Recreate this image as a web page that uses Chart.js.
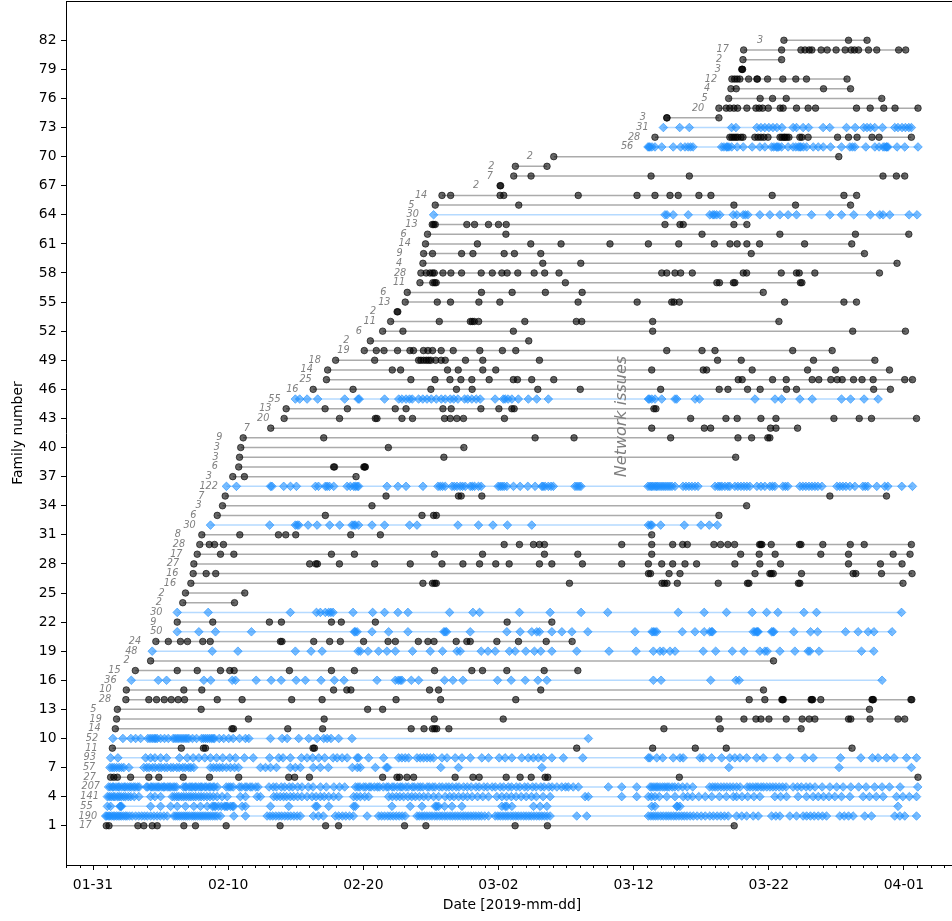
<!DOCTYPE html>
<html>
<head>
<meta charset="utf-8">
<script src="https://cdn.jsdelivr.net/npm/chart.js@4/dist/chart.umd.min.js"></script>
<style>
  html, body { margin: 0; padding: 0; background: #ffffff; overflow: hidden; }
  #wrap { position: relative; width: 1000px; height: 921px; }
</style>
</head>
<body>
<div id="wrap"><canvas id="chart" width="1000" height="921"></canvas></div>
<script>
// Observation times of each family, in days since 2019-01-31 00:00.
const f01 = [0.98, 1.18, 3.32, 3.76, 4.38, 4.75, 6.72, 7.58, 9.85, 13.84, 17.21, 18.17, 23.05, 24.63, 31.23, 33.62, 47.44];
const f02 = [0.93, 1.02, 1.15, 1.24, 1.37, 1.5, 1.6, 1.74, 1.86, 1.98, 2.1, 2.25, 2.4, 2.52, 2.7, 2.9,
  3.15, 3.38, 3.6, 3.81, 4.02, 4.26, 4.5, 4.74, 4.98, 5.24, 5.49,
  5.98, 6.12, 6.26, 6.4, 6.55, 6.7, 6.84, 6.98, 7.13, 7.3, 7.44, 7.58, 7.74, 7.9, 8.05, 8.2, 8.36, 8.52, 8.68, 8.85, 9.02, 9.19,
  9.43, 10.42, 11.28,
  12.88, 13.1, 13.3, 13.52, 13.74, 13.95, 14.18, 14.4, 14.62, 14.86, 15.1, 15.34,
  16.3, 16.68, 17.04, 17.93, 18.18, 18.45, 18.7, 18.98, 19.26, 20.28,
  21.13, 21.35, 21.57, 21.8, 22.0, 22.22, 22.44, 22.66, 22.88, 23.1,
  23.97, 24.15, 24.34, 24.52, 24.7, 24.9, 25.08, 25.28, 25.46, 25.65, 25.84, 26.03, 26.22, 26.42, 26.6, 26.8, 26.98, 27.18, 27.38, 27.56, 27.76, 27.95, 28.15, 28.34, 28.54, 28.74, 28.98, 29.26,
  29.76, 29.95, 30.14, 30.33, 30.52, 30.7, 30.9, 31.1, 31.28, 31.47, 31.66, 31.86, 32.05, 32.24, 32.43, 32.62, 32.82, 33.02, 33.2, 33.4, 33.6, 33.82,
  35.79, 36.53,
  41.09, 41.27, 41.45, 41.62, 41.8, 42.0, 42.2, 42.4, 42.58, 42.77, 42.96, 43.15, 43.35, 43.55, 43.75, 43.95, 44.18, 44.42, 44.7, 45.0, 45.3,
  45.64, 45.9, 46.18, 46.45, 46.72, 47.0, 47.62, 48.0, 48.36, 48.85, 49.22, 50.21, 50.52, 50.82, 51.56, 52.05,
  52.54, 52.8, 53.08, 53.36, 53.66, 53.97, 54.27, 55.26, 55.58, 55.9, 56.24, 57.1, 57.6, 59.32, 59.7, 60.06, 60.93];
const f03 = [1.06, 1.3, 1.99, 2.04, 2.11, 4.26, 5.0, 5.74, 6.23, 6.84, 7.46, 7.95, 8.45, 8.82, 8.95, 9.06, 9.28, 9.5, 9.73, 9.84, 9.95, 10.17, 10.32, 10.41,
  11.03, 11.28, 13.13, 14.48, 16.46, 16.58, 17.44, 19.28, 19.41, 22.12, 23.47, 24.34, 25.32, 25.43, 25.57, 26.01, 26.56, 27.29,
  30.25, 30.49, 30.62, 30.99, 32.59, 33.08, 33.58, 41.34, 41.58, 43.19, 43.24, 43.43, 59.56];
const f04 = [1.06, 1.2, 1.34, 1.5, 1.62, 1.8, 1.93, 2.08, 2.26, 2.4, 2.61, 2.79, 3.05, 3.39, 4.26, 4.58, 5.0,
  5.86, 6.02, 6.2, 6.35, 6.55, 6.71, 6.9, 7.08, 7.24, 7.43, 7.6, 7.82, 8.0, 8.2, 8.43, 8.65, 8.9, 9.18, 9.55, 9.93,
  10.9, 11.28, 12.14, 12.39, 13.37, 13.6, 13.85, 14.1, 14.32, 14.6, 14.85, 15.14, 15.45, 15.84,
  16.21, 16.5, 16.82, 17.1, 17.44, 17.8, 18.17, 19.28, 19.52, 19.78, 20.1, 20.39,
  21.87, 22.15, 22.44, 22.7, 22.98, 23.3, 23.58, 23.85, 24.15, 24.47, 24.8, 25.2, 25.57,
  26.06, 26.4, 26.7, 27.05, 27.38, 27.7, 28.05, 28.45, 28.84, 29.26,
  29.88, 30.25, 30.6, 30.95, 31.3, 31.68, 32.05, 32.44, 32.8, 33.3, 33.82, 36.41, 36.65, 39.12, 40.23,
  41.09, 41.32, 41.58, 41.9, 42.45, 43.06, 43.67, 44.0, 44.35, 44.82, 45.3, 45.78, 46.35, 46.86, 47.37,
  47.62, 48.02, 48.44, 48.9, 49.34, 50.45, 50.87, 51.31, 52.17, 52.79, 53.28, 53.66, 54.05, 54.45, 54.89,
  55.38, 56.0, 56.98, 57.45, 57.95, 58.46, 59.45, 59.92, 60.4, 60.93];
const f05 = [1.15, 1.28, 1.45, 1.52, 1.7, 1.86, 1.94, 2.12, 2.3, 2.38, 2.55, 2.71, 2.83, 3.0, 3.12, 3.3, 3.42,
  3.95, 4.05, 4.27, 4.36, 4.5, 4.66, 4.8, 4.88, 5.07, 5.22, 5.3, 5.5, 5.63, 5.74, 5.92, 6.04, 6.18,
  6.68, 6.83, 6.9, 7.12, 7.25, 7.36, 7.55, 7.62, 7.81, 7.97, 8.06, 8.27, 8.38, 8.58, 8.69, 8.88, 8.97, 9.2,
  9.86, 10.04, 10.18, 10.37, 10.82, 10.98, 11.25, 11.38, 11.62, 11.77, 12.04, 12.21,
  13.02, 13.34, 13.57, 13.93, 14.18, 14.52, 14.77, 15.14, 15.46, 15.93, 16.28, 16.83, 17.26, 17.82, 18.24, 18.62,
  19.42, 19.6, 19.75, 20.02, 20.18, 20.43, 20.57, 20.82, 21.04, 21.19,
  21.48, 21.73, 21.86, 22.13, 22.27, 22.52, 22.74, 22.88, 23.14, 23.33,
  23.62, 23.77, 24.03, 24.22, 24.41, 24.72, 24.88, 25.13, 25.31, 25.62,
  25.84, 26.12, 26.33, 26.58, 26.87, 27.08, 27.42, 27.69, 27.98, 28.33,
  28.57, 28.92, 29.18, 29.53, 29.77, 30.12, 30.38, 30.73, 30.97, 31.32,
  31.58, 31.93, 32.17, 32.52, 32.78, 33.13, 33.37, 33.72, 33.97, 34.32,
  34.68, 34.96, 35.17, 35.53, 35.91, 38.13, 39.12, 40.23,
  41.22, 41.35, 41.5, 41.66, 41.78, 41.95, 42.14, 42.3, 42.48, 42.62, 42.85, 43.04, 43.3, 43.62, 43.95, 44.37,
  45.62, 45.84, 46.03, 46.22, 46.46, 46.68, 46.9, 47.13, 47.36, 47.62, 47.88,
  48.4, 48.6, 48.82, 49.04, 49.2, 49.43, 49.61, 49.85, 50.08, 50.3, 50.52, 50.77, 51.02, 51.28,
  51.8, 52.12, 52.41, 52.76, 53.05, 53.42, 53.95,
  54.52, 55.02, 55.5, 56.07, 56.65, 57.2, 57.83, 58.38, 58.93, 59.72, 61.02];
const f06 = [1.3, 1.54, 1.8, 2.78, 4.13, 4.87, 6.67, 8.62, 10.78, 14.48, 14.92, 16.01, 21.43, 22.49, 22.68, 23.23, 23.72, 26.79, 28.11, 28.57, 30.57, 31.6, 32.42, 33.45, 33.65, 43.38, 61.04];
const f07 = [1.25, 1.41, 1.56, 1.74, 1.93, 2.11, 2.28, 2.65, 3.76, 3.98, 4.15, 4.41, 4.6, 4.87, 5.05, 5.3, 5.49, 5.76, 5.94, 6.2, 6.38, 6.64, 6.82, 7.08, 7.24, 7.46,
  8.69, 8.91, 9.14, 9.36, 9.58, 9.87, 10.17, 10.47, 10.76, 12.39, 12.76, 13.13, 13.57, 14.6, 14.97, 15.34, 16.3, 16.82, 17.41, 19.19, 19.56,
  19.78, 20.89, 21.7, 21.8, 25.73, 27.04, 33.21, 47.05, 55.2, 60.55];
const f08 = [1.3, 1.84, 3.89, 4.26, 4.58, 5.0, 5.44, 6.4, 6.97, 7.41, 7.83, 8.27, 8.69, 9.14, 9.6, 10.12, 10.54, 11.2, 11.85, 13.07, 13.74, 14.06, 14.6, 15.42, 15.84, 16.25, 16.7, 17.14, 17.76, 18.06, 18.43, 18.8, 19.54,
  19.65, 20.39, 21.5, 22.61, 22.85, 23.1, 23.35, 23.97, 24.21, 24.46, 24.71, 24.95, 25.2, 25.82, 26.19, 26.8, 27.29, 27.92, 28.77, 29.26, 30.05, 30.49, 30.99, 31.72, 32.21, 32.58, 32.95, 33.33, 33.95, 34.8, 36.24, 41.09,
  41.21, 41.71, 42.15, 42.93, 43.43, 43.67, 44.91, 45.15, 45.77, 46.51, 47.12, 47.49, 47.86, 48.36, 49.1, 49.59, 50.62, 51.56, 52.67, 53.28, 55.31, 56.81, 57.67, 58.09, 58.71, 59.27, 60.19, 60.93];
const f09 = [1.43, 6.53, 8.17, 8.32, 16.28, 16.38, 35.79, 41.41, 44.56, 46.85, 56.16];
const f10 = [1.47, 2.21, 2.8, 3.15, 3.52, 4.06, 4.22, 4.37, 4.52, 4.63, 4.75, 5.0, 5.29, 5.57, 5.93, 6.07, 6.22, 6.36, 6.51, 6.66, 6.81, 6.95, 7.09, 7.36, 7.66,
  8.03, 8.17, 8.32, 8.47, 8.62, 8.76, 8.88, 8.99, 9.34, 9.67, 10.04, 10.37, 10.84, 11.28, 11.53,
  13.13, 13.99, 14.36, 15.22, 15.96, 16.58, 17.07, 17.32, 17.61, 18.17, 19.16, 36.65];
const f11 = [1.65, 10.28, 10.39, 14.41, 16.99, 23.54, 24.49, 25.12, 25.28, 25.43, 26.33, 42.24, 46.41, 52.39];
const f12 = [1.74, 11.5, 17.1, 25.25, 30.35, 46.31, 48.16, 49.05, 49.42, 50.01, 51.29, 52.47, 52.99, 53.41, 55.9, 56.07, 57.49, 59.56, 60.06];
const f13 = [1.8, 8.0, 20.32, 21.43, 57.45];
const f14 = [2.43, 4.13, 4.7, 5.27, 5.79, 6.3, 6.77, 9.19, 11.03, 14.7, 16.95, 22.42, 25.72, 31.28, 48.55, 49.71, 50.97, 51.02, 51.07, 53.13, 53.19, 53.24, 53.85, 57.64, 57.69, 57.74, 60.52, 60.58];
const f15 = [2.46, 6.72, 8.05, 17.8, 18.78, 19.08, 24.9, 25.57, 33.13, 49.61];
const f16 = [2.83, 4.83, 5.44, 8.2, 8.71, 10.3, 10.54, 12.07, 13.18, 13.92, 15.03, 15.71, 16.87, 17.86, 18.57, 21.01, 22.37, 22.59, 22.73, 22.86,
  23.55, 24.09, 26.01, 26.63, 27.37, 29.93, 30.94, 31.98, 32.92, 33.58, 41.46, 42.03, 45.7, 47.57, 47.81, 58.38];
const f17 = [3.13, 6.23, 7.71, 9.43, 10.12, 10.44, 14.53, 17.64, 19.34, 25.27, 28.03, 28.82, 30.62, 33.38, 35.87];
const f18 = [4.26, 50.35];
const f19 = [4.38, 8.82, 10.72, 14.97, 16.13, 16.95, 19.61, 19.78, 20.35, 21.13, 21.75, 22.37, 23.64, 24.95, 25.86, 26.93, 27.17, 28.72, 29.22, 29.76,
  30.81, 31.23, 32.02, 32.66, 33.13, 33.95, 35.79, 38.18, 40.18, 41.46, 41.95, 42.2, 42.69, 43.06, 45.15, 46.07, 47.3, 48.16, 49.34, 49.71,
  49.88, 50.82, 51.93, 52.91, 53.04, 53.72, 56.86, 57.77];
const f20 = [4.65, 5.57, 6.47, 6.99, 8.12, 8.67, 13.87, 13.98, 16.33, 17.51, 18.3, 20.02, 21.83, 22.37, 24.07, 24.78, 25.23, 26.87, 27.66, 27.91, 29.88, 31.48, 33.53, 35.45];
const f21 = [6.23, 7.83, 9.06, 11.72, 19.33, 19.41, 19.54, 20.64, 21.87, 23.3, 25.96, 26.06, 26.16, 27.91, 30.62, 31.6, 32.46, 32.83, 33.03, 33.95,
  34.69, 35.43, 36.61, 40.1, 41.36, 41.46, 41.58, 41.71, 43.6, 44.54, 45.22, 45.64, 45.77, 45.83, 48.85, 48.98, 49.1, 49.16, 49.22, 50.21,
  50.3, 50.38, 51.85, 53.09, 53.61, 55.68, 56.61, 57.35, 57.78, 59.12];
const f22 = [6.23, 8.86, 13.05, 13.94, 17.64, 18.37, 20.89, 30.64, 33.95];
const f23 = [6.23, 8.52, 14.6, 16.53, 16.82, 17.19, 17.44, 17.6, 17.76, 19.24, 20.69, 21.57, 22.56, 23.3, 26.38, 28.11, 28.6, 31.55, 33.82, 36.11,
  38.08, 43.3, 45.22, 46.87, 48.77, 49.84, 50.67, 52.6, 53.53, 59.82];
const f24 = [6.64, 10.47];
const f25 = [6.84, 11.23];
const f26 = [7.24, 24.41, 25.12, 25.28, 25.4, 35.25, 42.1, 42.28, 42.47, 43.23, 46.26, 48.42, 48.53, 52.19, 52.3, 59.93];
const f27 = [7.41, 8.37, 9.08, 41.1, 41.25, 42.62, 43.43, 48.98, 50.08, 50.19, 50.33, 52.42, 56.24, 56.44, 58.34, 60.6];
const f28 = [7.46, 16.03, 16.49, 16.6, 18.23, 20.84, 23.47, 25.82, 27.37, 28.6, 29.8, 30.79, 33.03, 33.95, 36.21, 39.12, 41.09, 42.08, 42.89, 43.8, 44.66, 47.49, 49.34, 50.87, 55.9, 58.26, 59.86];
const f29 = [7.71, 9.43, 10.42, 17.64, 19.34, 25.27, 28.82, 33.4, 35.87, 41.34, 47.92, 49.29, 50.47, 53.85, 55.9, 59.2, 60.45];
const f30 = [7.9, 8.6, 8.99, 9.65, 30.42, 31.55, 32.59, 33.03, 33.4, 39.12, 41.34, 42.89, 43.63, 43.97, 45.94, 46.43, 46.97, 47.47, 49.32, 49.41, 49.49, 50.18, 52.27, 52.38, 54.0, 56.03, 57.06, 60.55];
const f31 = [8.05, 10.86, 13.72, 14.26, 15.0, 19.07, 21.26, 41.34];
const f32 = [8.69, 13.07, 14.97, 15.1, 15.23, 15.91, 16.58, 17.51, 18.25, 19.16, 19.3, 19.41, 19.65, 20.64, 21.57, 23.42, 23.97, 27.0, 28.52, 29.59,
  30.66, 32.46, 41.09, 41.25, 41.36, 42.0, 43.75, 44.98, 45.6, 46.19];
const f33 = [9.19, 17.19, 24.34, 25.2, 25.4, 46.31];
const f34 = [9.58, 20.64, 48.36];
const f35 = [9.78, 21.68, 27.04, 27.24, 28.77, 54.52, 58.71];
const f36 = [9.87, 10.61, 13.13, 13.24, 14.11, 14.61, 15.05, 16.46, 16.68, 17.19, 17.32, 17.49, 17.81, 18.8, 19.04, 19.29, 19.41, 19.54,
  19.65, 21.75, 22.56, 23.16, 24.41, 25.52, 25.69, 25.86, 26.06, 26.56, 26.73, 26.93, 27.17, 27.34, 27.54, 27.91, 28.06, 28.23, 28.52, 28.72,
  29.98, 30.13, 30.27, 30.42, 30.62, 31.11, 31.6, 32.17, 32.71, 33.21, 33.3, 33.45, 33.69, 33.89, 34.06, 35.66, 35.81, 35.96, 36.1,
  41.06, 41.21, 41.32, 41.43, 41.58, 41.69, 41.8, 41.95, 42.1, 42.24, 42.39, 42.54, 42.69, 42.84, 43.06, 43.65, 43.87, 44.09, 44.31, 44.54, 44.76,
  46.02, 46.24, 46.38, 46.53, 46.75, 46.97, 47.12, 47.49, 47.71, 47.94, 48.16, 48.38, 48.6, 49.12, 49.42, 49.71, 50.08, 50.27, 50.45,
  51.04, 51.23, 51.41, 52.3, 52.52, 52.74, 52.97, 53.19, 53.41, 53.63, 53.93, 55.04, 55.26, 55.48, 55.71, 56.0, 56.37,
  56.96, 57.14, 57.33, 57.99, 58.58, 58.81, 59.84, 60.63];
const f37 = [10.34, 11.2, 19.46];
const f38 = [10.78, 17.8, 17.87, 20.04, 20.1, 20.15];
const f39 = [10.84, 25.96, 47.55];
const f40 = [10.93, 21.85, 27.44];
const f41 = [11.11, 17.07, 32.71, 35.59, 42.74, 47.72, 48.73, 49.93, 50.08];
const f42 = [13.15, 41.34, 45.23, 45.7, 50.13, 50.53, 52.13];
const f43 = [14.14, 18.24, 20.89, 21.01, 22.86, 23.64, 26.01, 26.43, 26.92, 27.41, 30.44, 44.22, 46.83, 47.66, 49.42, 50.53, 54.82, 56.69, 57.6, 60.93];
const f44 = [14.29, 17.17, 18.82, 22.36, 23.16, 25.89, 26.5, 28.7, 30.03, 30.99, 31.16, 41.5, 41.65];
const f45 = [14.97, 15.29, 15.84, 16.62, 18.62, 19.61, 19.7, 21.57, 22.62, 22.86, 23.16, 23.42, 23.62, 24.09, 24.4, 24.71, 25.03, 25.4, 25.77, 26.06,
  26.43, 26.69, 27.0, 27.49, 27.72, 28.03, 28.35, 28.65, 29.75, 30.36, 30.49, 30.71, 30.99, 31.47, 32.21, 32.83, 33.69,
  41.09, 41.17, 41.34, 41.58, 42.08, 43.06, 43.19, 44.55, 44.87, 48.98, 50.46, 50.95, 52.3, 53.21, 55.38, 56.05, 57.05, 58.09];
const f46 = [16.29, 19.24, 25.0, 26.89, 28.05, 32.91, 36.05, 42.0, 46.33, 46.98, 48.43, 49.36, 51.31, 52.05, 57.76, 59.0];
const f47 = [17.27, 23.52, 25.3, 26.41, 27.22, 28.03, 29.31, 31.1, 31.4, 32.46, 34.09, 47.74, 48.03, 50.28, 51.29, 53.21, 53.7, 54.59, 55.06, 55.43, 56.27, 56.9, 57.72, 60.06, 60.63];
const f48 = [17.36, 22.14, 22.76, 26.23, 27.02, 28.84, 29.8, 41.34, 45.15, 45.4, 48.77, 52.87, 54.94, 58.93];
const f49 = [17.95, 20.84, 24.09, 24.26, 24.46, 24.66, 24.83, 24.99, 25.35, 25.76, 26.06, 27.56, 28.84, 33.03, 46.21, 47.96, 53.31, 57.85];
const f50 = [20.07, 20.96, 21.53, 22.53, 23.45, 23.71, 24.45, 24.78, 25.12, 25.76, 26.65, 28.62, 30.29, 31.28, 42.45, 45.06, 46.02, 51.77, 54.69];
const f51 = [20.52, 32.24];
const f52 = [21.43, 22.93, 31.1, 41.41, 56.21, 60.11];
const f53 = [22.02, 25.62, 27.92, 28.06, 28.21, 28.53, 31.95, 35.76, 36.16, 41.41, 50.75];
const f54 = [22.5, 22.55];
const f55 = [23.1, 25.47, 26.45, 28.55, 30.1, 35.89, 40.26, 42.82, 42.99, 43.38, 51.17, 55.56, 56.49];
const f56 = [23.25, 28.74, 31.01, 33.47, 36.19, 49.59];
const f57 = [24.19, 25.14, 25.28, 25.39, 34.95, 46.16, 46.35, 47.38, 47.49, 52.34, 52.45];
const f58 = [24.26, 24.65, 24.93, 25.12, 25.25, 25.89, 26.48, 27.27, 28.72, 29.54, 30.25, 30.64, 31.43, 32.64, 33.42, 34.48,
  42.08, 42.45, 43.06, 43.48, 44.34, 48.11, 48.36, 50.92, 52.05, 52.25, 53.41, 58.19];
const f59 = [24.41, 33.28, 36.09, 59.49];
const f60 = [24.46, 25.12, 27.27, 28.11, 30.42, 31.18, 33.13, 48.7, 57.08];
const f61 = [24.6, 28.44, 32.39, 34.63, 38.25, 41.09, 43.34, 45.97, 47.13, 47.66, 48.38, 49.32, 52.65, 56.14];
const f62 = [24.75, 30.55, 45.06, 50.82, 56.41, 60.36];
const f63 = [25.1, 25.21, 25.32, 27.66, 28.23, 29.26, 30.0, 30.57, 42.32, 43.43, 43.67, 47.42, 48.38];
const f64 = [25.2, 42.32, 42.47, 42.93, 44.04, 45.64, 45.86, 45.97, 46.14, 46.38, 47.37, 47.64, 48.11, 48.27, 48.45, 49.34, 50.08, 50.82, 51.43, 52.05,
  53.16, 54.52, 55.38, 56.29, 57.52, 58.21, 58.46, 58.95, 60.38, 60.97];
const f65 = [25.32, 31.5, 47.42, 51.98, 56.05];
const f66 = [25.82, 26.46, 30.12, 30.39, 35.9, 40.25, 41.58, 42.69, 43.3, 44.83, 45.72, 50.25, 55.56, 56.5];
const f67 = [30.12, 30.16];
const f68 = [31.13, 32.41, 41.29, 44.12, 58.45, 59.44, 60.06];
const f69 = [31.25, 33.59];
const f70 = [34.09, 55.18];
const f71 = [41.06, 41.14, 41.21, 41.36, 41.58, 42.08, 42.93, 43.48, 43.8, 44.02, 44.21, 44.39, 46.51, 46.68, 46.87, 46.94, 47.05, 47.25,
  47.66, 48.11, 48.77, 49.34, 49.71, 50.21, 50.38, 50.56, 50.64, 50.75, 50.95, 51.43, 51.8, 52.0, 52.19, 52.3, 52.37, 52.56, 52.8,
  53.29, 53.66, 54.03, 54.57, 55.38, 56.0, 56.19, 56.37, 57.18, 57.85, 58.16, 58.46, 58.58, 58.71, 58.73, 58.82, 59.49, 60.06, 61.04];
const f72 = [41.58, 47.12, 47.27, 47.42, 47.57, 47.71, 47.94, 48.09, 48.97, 49.2, 49.42, 49.64, 49.94, 50.83, 50.97, 51.12, 51.2, 51.34, 51.49,
  52.3, 52.45, 52.91, 55.09, 55.9, 56.53, 57.64, 58.16, 60.55];
const f73 = [42.2, 43.41, 44.12, 47.25, 47.57, 49.12, 49.42, 49.71, 50.01, 50.31, 50.6, 50.97, 51.8, 52.05, 52.54, 52.94, 54.02, 54.51, 55.75, 56.39,
  57.02, 57.27, 57.52, 57.84, 58.41, 59.32, 59.56, 59.86, 60.11, 60.36, 60.55];
const f74 = [42.45, 42.47, 46.31];
const f75 = [46.31, 46.85, 47.12, 47.42, 47.69, 48.38, 49.05, 49.29, 49.54, 49.96, 50.84, 51.06, 52.05, 52.91, 53.46, 56.49, 57.5, 58.51, 59.34, 61.04];
const f76 = [47.03, 49.36, 50.28, 51.29, 58.36];
const f77 = [47.2, 47.59, 54.05, 56.05];
const f78 = [47.27, 47.47, 47.66, 47.86, 48.51, 49.12, 49.16, 49.91, 51.04, 52.0, 52.79, 55.79];
const f79 = [48.0, 48.03, 48.06];
const f80 = [48.09, 50.95];
const f81 = [48.14, 50.95, 52.38, 52.68, 52.99, 53.19, 53.87, 54.32, 54.98, 55.65, 56.09, 56.34, 56.64, 57.38, 57.99, 59.61, 60.13];
const f82 = [51.12, 55.9, 57.27];

// family number n is families[n - 1]
const families = [f01, f02, f03, f04, f05, f06, f07, f08, f09, f10, f11, f12, f13, f14, f15, f16, f17, f18, f19, f20,
  f21, f22, f23, f24, f25, f26, f27, f28, f29, f30, f31, f32, f33, f34, f35, f36, f37, f38, f39, f40,
  f41, f42, f43, f44, f45, f46, f47, f48, f49, f50, f51, f52, f53, f54, f55, f56, f57, f58, f59, f60,
  f61, f62, f63, f64, f65, f66, f67, f68, f69, f70, f71, f72, f73, f74, f75, f76, f77, f78, f79, f80, f81, f82];

// families drawn as blue diamonds
const highlighted = [2, 3, 4, 5, 7, 8, 10, 16, 19, 21, 23, 32, 36, 45, 64, 71, 73];

const xTickDays = [0, 10, 20, 30, 40, 50, 60];
const xTickLabels = ['01-31', '02-10', '02-20', '03-02', '03-12', '03-22', '04-01'];
const yTicks = [1, 4, 7, 10, 13, 16, 19, 22, 25, 28, 31, 34, 37, 40, 43, 46, 49, 52, 55, 58, 61, 64, 67, 70, 73, 76, 79, 82];

const noteText = 'Network issues';
const noteDay = 39.1;
const noteFamily = 43.2;

// ---- styling ----
const FONT = '"DejaVu Sans", "Liberation Sans", sans-serif';
const BLUE_PT = 'rgba(30,144,255,0.6)';
const BLUE_LN = 'rgba(30,144,255,0.33)';
const BLACK_PT = 'rgba(0,0,0,0.6)';
const BLACK_LN = 'rgba(0,0,0,0.33)';
const COUNT_OFFSET_DAYS = 2.0;

const datasets = families.map((days, i) => {
  const fam = i + 1;
  const hi = highlighted.includes(fam);
  const sorted = days.slice().sort((a, b) => a - b);
  return {
    label: 'Family ' + fam,
    data: sorted.map(d => ({ x: d, y: fam })),
    showLine: true,
    borderColor: hi ? BLUE_LN : BLACK_LN,
    borderWidth: 1.5,
    pointStyle: hi ? 'rectRot' : 'circle',
    pointRadius: hi ? 4.3 : 3.3,
    pointHoverRadius: hi ? 4.3 : 3.3,
    pointBackgroundColor: hi ? BLUE_PT : BLACK_PT,
    pointBorderColor: hi ? BLUE_PT : BLACK_PT,
    pointBorderWidth: 1,
    clip: false
  };
});

const decorations = {
  id: 'decorations',
  afterDatasetsDraw(chart) {
    const { ctx, scales: { x, y } } = chart;
    ctx.save();
    // number of observations, written just left of each family's first point
    ctx.font = 'italic 9.7px ' + FONT;
    ctx.fillStyle = '#808080';
    ctx.textAlign = 'left';
    ctx.textBaseline = 'middle';
    families.forEach((days, i) => {
      const first = Math.min(...days);
      ctx.fillText(String(days.length), x.getPixelForValue(first - COUNT_OFFSET_DAYS), y.getPixelForValue(i + 1));
    });
    // outage note
    ctx.translate(x.getPixelForValue(noteDay), y.getPixelForValue(noteFamily));
    ctx.rotate(-Math.PI / 2);
    ctx.font = 'italic 16px ' + FONT;
    ctx.fillStyle = '#7f7f7f';
    ctx.textAlign = 'center';
    ctx.fillText(noteText, 0, 0);
    ctx.restore();
  },
  afterDraw(chart) {
    const { ctx, chartArea: a, scales: { x } } = chart;
    ctx.save();
    ctx.strokeStyle = '#000';
    ctx.lineWidth = 1;
    // daily minor ticks
    ctx.beginPath();
    for (let d = Math.ceil(x.min); d <= Math.floor(x.max); d++) {
      if (xTickDays.includes(d)) continue;
      const px = Math.round(x.getPixelForValue(d)) + 0.5;
      ctx.moveTo(px, a.bottom);
      ctx.lineTo(px, a.bottom + 3);
    }
    ctx.stroke();
    // top and right frame lines
    ctx.beginPath();
    ctx.moveTo(a.left, a.top + 0.5);
    ctx.lineTo(a.right, a.top + 0.5);
    ctx.moveTo(a.right - 0.5, a.top);
    ctx.lineTo(a.right - 0.5, a.bottom);
    ctx.stroke();
    ctx.restore();
  }
};

Chart.defaults.font.family = FONT;

new Chart(document.getElementById('chart'), {
  type: 'scatter',
  data: { datasets },
  options: {
    responsive: false,
    devicePixelRatio: 1,
    animation: false,
    events: [],
    layout: { autoPadding: false, padding: { left: 0, right: 42, top: 1, bottom: 0 } },
    plugins: { legend: { display: false }, tooltip: { enabled: false } },
    scales: {
      x: {
        type: 'linear',
        min: -2.0,
        max: 64.0,
        afterBuildTicks: s => { s.ticks = xTickDays.map(v => ({ value: v })); },
        afterFit: s => { s.height = 56; s.paddingLeft = 0; s.paddingRight = 0; },
        ticks: {
          autoSkip: false, maxRotation: 0, minRotation: 0,
          color: '#000', padding: 7.5,
          font: { family: FONT, size: 13.9 },
          callback: (v, i) => xTickLabels[i]
        },
        grid: { drawOnChartArea: false, drawTicks: true, tickLength: 5, tickColor: '#000', tickWidth: 1 },
        border: { display: true, color: '#000', width: 1 },
        title: {
          display: true, text: 'Date [2019-mm-dd]', color: '#000',
          font: { family: FONT, size: 13.9 }, padding: { top: 0, bottom: 7.4 }
        }
      },
      y: {
        type: 'linear',
        min: -3.05,
        max: 86.05,
        afterBuildTicks: s => { s.ticks = yTicks.map(v => ({ value: v })); },
        afterFit: s => { s.width = 66; s.paddingTop = 0; s.paddingBottom = 0; },
        ticks: {
          autoSkip: false, color: '#000', padding: 4.5,
          font: { family: FONT, size: 13.9 }
        },
        grid: { drawOnChartArea: false, drawTicks: true, tickLength: 5, tickColor: '#000', tickWidth: 1 },
        border: { display: true, color: '#000', width: 1 },
        title: {
          display: true, text: 'Family number', color: '#000',
          font: { family: FONT, size: 13.9 }, padding: { top: 9.6, bottom: 0 }
        }
      }
    }
  },
  plugins: [decorations]
});
</script>
</body>
</html>
